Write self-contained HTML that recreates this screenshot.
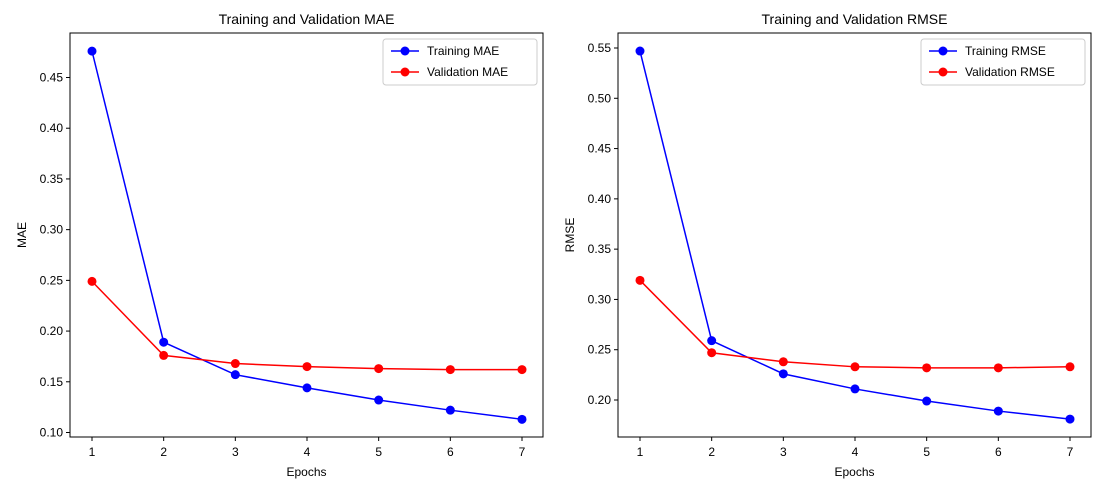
<!DOCTYPE html>
<html><head><meta charset="utf-8"><style>
body{margin:0;background:#fff;font-family:"Liberation Sans",sans-serif}
text{font-family:"Liberation Sans",sans-serif;fill:#000}
</style></head><body>
<svg id="s" width="1101" height="490" xmlns="http://www.w3.org/2000/svg"></svg>
<script>
const epochs=[1,2,3,4,5,6,7];
const maeTrain=[0.476,0.189,0.157,0.144,0.132,0.122,0.113];
const maeVal=[0.249,0.176,0.168,0.165,0.163,0.162,0.162];
const rmseTrain=[0.547,0.259,0.226,0.211,0.199,0.189,0.181];
const rmseVal=[0.319,0.247,0.238,0.233,0.232,0.232,0.233];
const maeTicks=[0.10,0.15,0.20,0.25,0.30,0.35,0.40,0.45];
const rmseTicks=[0.20,0.25,0.30,0.35,0.40,0.45,0.50,0.55];
const NS="http://www.w3.org/2000/svg";
const svg=document.getElementById('s');
function el(t,a,p){const e=document.createElementNS(NS,t);for(const k in a)e.setAttribute(k,a[k]);(p||svg).appendChild(e);return e;}
function panel(o){
  const g=el('g',{});
  
  
  const L=o.left,R=o.right,T=33,B=437;
  const xs=v=>o.x1+(v-1)*(o.x7-o.x1)/6;
  const ys=v=>o.yA+(v-o.vA)*(o.yB-o.yA)/(o.vB-o.vA);
  el('rect',{x:L,y:T,width:R-L,height:B-T,fill:'none',stroke:'#000','stroke-width':1},g);
  epochs.forEach(e=>{const x=xs(e);el('line',{x1:x,x2:x,y1:B,y2:B+4,stroke:'#000'},g);
    const t=el('text',{x:x,y:B+19,'text-anchor':'middle','font-size':12},g);t.textContent=e;
    });
  o.ticks.forEach(v=>{const y=ys(v);el('line',{x1:L-4,x2:L,y1:y,y2:y,stroke:'#000'},g);
    const t=el('text',{x:L-7,y:y+4,'text-anchor':'end','font-size':12},g);t.textContent=v.toFixed(2);
    });
  let t=el('text',{x:(L+R)/2,y:24,'text-anchor':'middle','font-size':14},g);t.textContent=o.title;
  
  t=el('text',{x:(L+R)/2,y:476,'text-anchor':'middle','font-size':12},g);t.textContent='Epochs';
  
  t=el('text',{x:0,y:0,'text-anchor':'middle','font-size':12,transform:`translate(${L-44},${(T+B)/2}) rotate(-90)`},g);t.textContent=o.ylabel;
  
  [[o.train,'#0000ff','train-series'],[o.val,'#ff0000','validation-series']].forEach(([d,c,n])=>{
    const pl=el('polyline',{points:d.map((v,i)=>xs(epochs[i])+','+ys(v)).join(' '),fill:'none',stroke:c,'stroke-width':1.5},g);
    
    d.forEach((v,i)=>{const m=el('circle',{cx:xs(epochs[i]),cy:ys(v),r:4.5,fill:c},g);
      });
  });
  const lw=o.legW,lx=R-lw-6,ly=39;
  const lg=el('g',{},g);
  
  el('rect',{x:lx,y:ly,width:lw,height:46,rx:3,fill:'#fff',stroke:'#ccc'},lg);
  [[o.legs[0],'#0000ff',ly+12],[o.legs[1],'#ff0000',ly+33]].forEach(([s,c,y])=>{
    el('line',{x1:lx+8,x2:lx+36,y1:y,y2:y,stroke:c,'stroke-width':1.5},lg);
    el('circle',{cx:lx+22,cy:y,r:4.5,fill:c},lg);
    const tt=el('text',{x:lx+44,y:y+4,'font-size':12},lg);tt.textContent=s;
    
  });
}
panel({name:'mae-chart',left:70,right:543,x1:92,x7:522,yA:77.5,vA:0.45,yB:432.5,vB:0.10,ticks:maeTicks,train:maeTrain,val:maeVal,title:'Training and Validation MAE',ylabel:'MAE',legs:['Training MAE','Validation MAE'],legW:154});
panel({name:'rmse-chart',left:618,right:1091,x1:640,x7:1070,yA:48,vA:0.55,yB:400,vB:0.20,ticks:rmseTicks,train:rmseTrain,val:rmseVal,title:'Training and Validation RMSE',ylabel:'RMSE',legs:['Training RMSE','Validation RMSE'],legW:164});
</script>
</body></html>
